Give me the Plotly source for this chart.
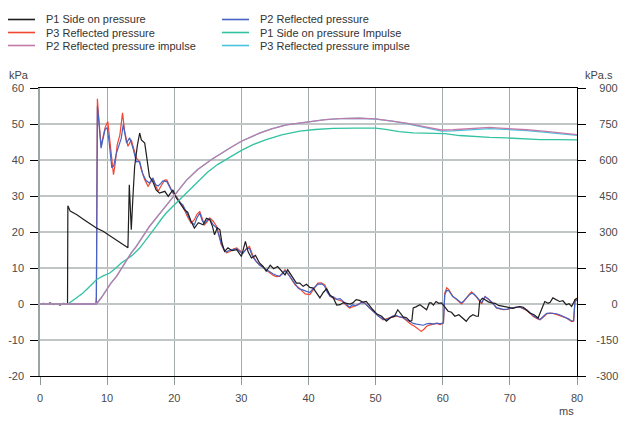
import plotly.graph_objects as go

# ---------------- data ----------------
t_p1 = [0, 0.5, 1, 1.5, 2, 2.5, 3, 3.5, 4.1, 4.15, 4.5, 5.5, 6.5, 7.5, 8.4, 9.4, 10.4, 11.3, 12.2, 13.1,
        13.2, 13.3, 13.45, 13.6, 13.85, 14.1, 14.5, 14.85, 15.1, 15.6, 15.85, 16.1, 16.3, 16.8, 17.3, 17.8,
        18.6, 19.1, 19.8, 20.3, 20.8, 21.5, 22.0, 22.5, 23.0, 23.6, 24.3, 24.8, 25.3, 25.7, 26.0, 26.4, 26.8,
        27.1, 27.5, 28.0, 28.6, 29.3, 30.0, 30.6, 31.0, 31.5, 32.1, 32.7, 33.2, 33.7, 34.3, 34.8, 35.4, 36.0,
        36.5, 36.9, 37.4, 37.8, 38.2, 38.7, 39.2, 39.7, 40.2, 40.7, 41.2, 41.7, 42.2, 42.7, 43.2, 43.7, 44.2,
        44.7, 45.2, 45.7, 46.2, 46.6, 47.1, 47.6, 48.1, 48.6, 49.1, 49.6, 50.2, 50.9, 51.3, 51.6, 52.2, 52.8,
        53.3, 53.7, 54.1, 54.6, 55.1, 55.4, 55.6, 56.0, 56.6, 57.1, 57.6, 58.0, 58.3, 58.6, 59.0, 59.4, 59.8,
        60.3, 60.8, 61.3, 61.8, 62.4, 63.0, 63.5, 64.0, 64.5, 65.0, 65.3, 65.5, 65.9, 66.3, 66.8, 67.3, 67.8,
        68.3, 69.0, 69.7, 70.5, 71.0, 71.5, 72.0, 72.5, 73.0, 73.6, 74.2, 74.7, 75.0, 75.2, 75.7, 76.0, 76.4,
        76.9, 77.4, 77.9, 78.4, 78.8, 79.2, 79.5, 79.7, 80.0]
p1 = [0, 0.2, -0.1, 0.3, -0.2, 0.1, -0.3, 0.2, 0, 27.3, 25.8, 24.8, 23.5, 22.2, 21.1, 20.2, 19.0, 18.0, 16.8, 15.6,
      24.0, 33.1, 27.0, 20.6, 30.0, 38.2, 44.0, 47.5, 45.6, 44.7, 41.5, 38.2, 35.4, 34.0, 31.7, 30.8,
      31.3, 29.9, 31.7, 29.5, 28.0, 26.2, 25.5, 23.0, 21.1, 22.6, 22.0, 23.8, 23.4, 21.5, 19.2, 21.2, 20.6,
      17.0, 14.6, 15.6, 14.8, 15.1, 13.2, 17.4, 14.5, 12.8, 13.5, 11.4, 10.5, 9.1, 10.8, 9.8, 10.4, 9.0,
      8.1, 9.5, 8.1, 6.8, 5.8, 5.8, 4.9, 5.5, 4.6, 4.4, 3.0, 1.7, 3.2, 4.2, 2.5, 1.7, -0.3,
      -0.2, 0.4, 0.3, 0.0, 0.3, 1.2, 1.0, 0.5, 0.7, -0.5, -1.6, -2.8, -3.4, -4.2, -4.8, -3.8, -3.4,
      -1.6, -2.6, -3.6, -3.8, -4.8, -4.6, -1.1, -0.8, -0.2, -0.9, -1.6, 0.3, 0.3, -0.3, 0.7, 0.2, 0.3,
      -0.8, -2.0, -2.3, -3.4, -3.0, -3.9, -4.8, -3.6, -3.0, -3.4, -3.4, 0.7, 1.6, 1.2, 0.6, 0.3, 0.2,
      -0.4, -0.7, -0.8, -1.2, -0.9, -0.7, -0.9, -1.7, -2.5, -3.0, -3.9, -1.6, 0.2, 0.7, 0.2, 0.5, 1.7,
      1.2, 0.7, 0.9, -0.2, 0.1, -0.7, 0.4, 1.2, 1.5]

t_p2 = [0, 8.35, 8.4, 8.55, 8.75, 9.1, 9.4, 9.7, 10.0, 10.3, 10.7, 11.0, 11.4, 11.8, 12.1, 12.4, 12.9, 13.35,
        13.85, 14.35, 14.85, 15.3, 15.8, 16.3, 16.8, 17.2, 17.6, 18.0, 18.3, 18.9, 19.3, 19.6, 20.3, 20.8,
        21.3, 22.0, 22.5, 23.0, 23.4, 23.8, 24.2, 24.5, 25.0, 25.3, 25.8, 26.3, 26.7, 27.0, 27.5, 27.8, 28.3,
        28.8, 29.3, 29.8, 30.2, 30.7, 31.2, 31.7, 32.2, 32.7, 33.2, 33.7, 34.2, 34.7, 35.2, 35.7, 36.1, 36.5,
        37.0, 37.5, 38.0, 38.5, 39.0, 39.5, 40.2, 40.8, 41.4, 42.0, 42.4, 42.8, 43.2, 43.7, 44.2, 44.7, 45.1,
        45.6, 46.1, 46.6, 47.0, 47.4, 47.9, 48.4, 49.0, 49.6, 50.3, 51.1, 51.6, 52.1, 52.6, 53.1, 53.6, 54.1,
        54.6, 55.1, 55.6, 56.1, 56.6, 57.1, 57.6, 58.1, 58.6, 59.1, 59.6, 60.1, 60.3, 60.6, 60.9, 61.2, 61.5,
        61.9, 62.3, 62.8, 63.2, 63.5, 63.9, 64.3, 64.7, 65.0, 65.4, 65.8, 66.0, 66.3, 66.8, 67.3, 67.7, 68.0,
        68.5, 69.0, 69.6, 70.2, 70.8, 71.5, 72.0, 72.5, 73.0, 73.5, 74.0, 74.5, 75.0, 75.5, 76.0, 76.4, 76.9,
        77.4, 77.9, 78.4, 78.8, 79.2, 79.5, 79.7, 80.0]
p2 = [0, 0, 2, 54.9, 51, 43.3, 46, 48.5, 49.0, 45, 37.8, 38.5, 42.0, 44.5, 46, 49.8, 44.7, 46.2,
      43.3, 39.5, 39.6, 36.2, 34.3, 33.6, 35.0, 33.2, 32.8, 33.5, 34.2, 34.0, 32.5, 31.5, 29.7, 28.3,
      27.5, 24.8, 22.8, 22.0, 24.0, 25.2, 23.0, 22.3, 23.5, 23.6, 22.0, 21.2, 19.0, 16.8, 14.8, 14.5, 15.0,
      15.2, 15.3, 14.5, 14.0, 15.2, 15.5, 13.0, 11.8, 10.8, 10.2, 9.6, 8.8, 8.4, 8.0, 7.7, 8.4, 9.2,
      8.2, 6.9, 5.5, 4.3, 4.0, 3.7, 3.2, 4.5, 5.5, 5.6, 5.0, 3.2, 2.2, 2.0, 1.3, 1.5, 0.9,
      0.0, -0.9, -0.2, -0.5, 0.0, 0.4, 0.2, -0.8, -1.8, -3.2, -4.2, -4.4, -3.8, -3.3, -3.2, -3.6, -3.7,
      -4.4, -4.8, -5.4, -5.6, -5.8, -5.9, -5.5, -5.4, -5.6, -5.3, -5.5, -5.2, 2.6, 3.8, 3.7, 3.0, 2.1,
      1.6, 1.0, 0.3, 1.0, 1.7, 2.4, 3.0, 2.7, 2.1, 1.2, 0.3, 1.2, 2.0, 1.4, 0.6, -0.3, -1.0,
      -1.2, -1.5, -1.4, -1.1, -0.9, -0.8, -1.2, -1.6, -2.4, -3.3, -3.9, -4.3, -3.4, -2.6, -2.5, -2.5, -2.7,
      -3.0, -3.4, -3.8, -4.2, -4.7, -4.6, 0.8, 1.0]

t_p3 = [0, 8.35, 8.4, 8.55, 8.7, 9.1, 9.4, 9.7, 10.1, 10.4, 10.7, 10.95, 11.2, 11.5, 11.9, 12.1, 12.3, 12.6,
        13.1, 13.6, 14.0, 14.35, 14.8, 15.1, 15.6, 16.1, 16.5, 16.8, 17.2, 17.6, 18.1, 18.6, 18.9, 19.3, 19.8,
        20.3, 20.8, 21.3, 21.9, 22.5, 23.0, 23.4, 23.8, 24.2, 24.5, 24.9, 25.3, 25.8, 26.3, 26.7, 27.0, 27.4,
        27.8, 28.3, 28.8, 29.3, 29.8, 30.2, 30.7, 31.2, 31.7, 32.2, 32.7, 33.2, 33.7, 34.2, 34.7, 35.2, 35.7,
        36.1, 36.5, 37.0, 37.5, 38.0, 38.5, 39.0, 39.5, 40.2, 40.8, 41.4, 41.9, 42.4, 42.8, 43.2, 43.7, 44.2,
        44.7, 45.1, 45.6, 46.1, 46.8, 47.4, 47.9, 48.4, 49.0, 49.6, 50.3, 51.1, 51.6, 52.1, 52.6, 53.1, 53.6,
        54.1, 54.6, 55.3, 55.8, 56.3, 56.8, 57.2, 57.6, 58.1, 58.6, 59.1, 59.6, 60.1, 60.3, 60.6, 60.9, 61.2,
        61.5, 61.9, 62.3, 62.8, 63.2, 63.5, 63.9, 64.3, 64.7, 65.0, 65.4, 65.8, 66.0, 66.3, 66.8, 67.3, 67.7,
        68.0, 68.5, 69.0, 69.6, 70.2, 70.8, 71.5, 72.0, 72.5, 73.0, 73.5, 74.0, 74.5, 75.0, 75.5, 76.0, 76.4,
        76.9, 77.4, 77.9, 78.4, 78.8, 79.2, 79.5, 79.7, 80.0]
p3 = [0, 0, 2, 57.0, 53, 43.8, 46.5, 49, 50.7, 45.5, 38.5, 35.9, 39, 44.2, 47, 51, 53.1, 48,
      43.8, 45.6, 42.5, 40.6, 39.5, 37.3, 34.5, 32.7, 33.8, 35.0, 33.0, 31.3, 33.0, 34.5, 34.4, 32.7, 30.8,
      29.9, 28.5, 27.1, 24.5, 22.5, 23.4, 25.0, 25.7, 23.5, 22.0, 22.8, 23.9, 23.0, 21.6, 19.0, 16.5, 15.0,
      14.2, 14.6, 15.3, 15.6, 14.8, 14.2, 15.3, 16.0, 13.5, 11.8, 10.9, 10.4, 9.4, 8.6, 8.0, 7.6, 7.7,
      8.6, 9.5, 8.3, 6.8, 5.3, 4.6, 3.6, 2.8, 2.6, 4.2, 5.8, 5.9, 5.4, 3.8, 2.1, 1.6, 1.2,
      1.0, 0.7, -0.3, -1.1, -0.6, -0.2, 0.5, 0.3, -1.0, -2.0, -3.2, -4.4, -4.1, -3.9, -3.6, -3.4, -3.6,
      -3.9, -4.6, -5.7, -6.2, -7.0, -7.6, -7.0, -6.2, -5.8, -5.7, -5.4, -5.7, -5.3, 3.0, 4.5, 4.0, 3.2,
      2.1, 1.5, 0.8, 0.0, 0.9, 1.7, 2.6, 3.4, 2.7, 2.0, 1.0, 0.0, 1.0, 2.1, 1.3, 0.6, -0.4,
      -1.1, -1.4, -1.6, -1.5, -1.2, -0.9, -0.9, -1.3, -1.8, -2.6, -3.5, -4.0, -4.4, -3.6, -2.7, -2.6, -2.6,
      -2.9, -3.2, -3.6, -3.9, -4.4, -4.9, -4.8, 1.2, 1.7]

t_i1 = [0, 4.15, 5.3, 6.4, 7.4, 8.4, 9.4, 10.4, 11.3, 12.1, 13.0, 13.85, 14.85, 15.85, 16.6, 17.3, 18.0,
        18.8, 19.8, 20.8, 21.8, 22.8, 23.8, 25.0, 26.5, 28.3, 30.0, 31.8, 33.7, 36.0, 38.7, 41.0, 43.7,
        47.0, 50.0, 51.5, 53.5, 55.6, 58.0, 60.3, 62.5, 64.5, 67.0, 69.5, 72.0, 74.5, 77.0, 80.0]
i1 = [0, 0, 23, 46, 73, 101, 117, 129, 150, 171, 188, 205, 233, 268, 296, 323, 351,
      379, 407, 435, 463, 490, 518, 550, 582, 612, 640, 665, 685, 705, 720, 727, 732,
      733, 733, 728, 718, 713, 712, 710, 702, 698, 694, 692, 688, 685, 685, 684]

t_i23 = [0, 8.4, 9.1, 9.9, 10.6, 11.4, 12.1, 12.9, 13.6, 14.35, 15.3, 16.3, 17.3, 18.3, 19.3, 20.3, 21.8,
         23.5, 25.5, 28.3, 30.0, 32.7, 34.5, 36.7, 40.0, 42.5, 44.7, 47.5, 50.0, 52.5, 54.6, 57.0, 59.8,
         61.5, 63.5, 65.5, 67.0, 68.5, 70.0, 72.5, 75.0, 77.5, 80.0]
i2 = [0, 0, 25, 60, 88, 115, 148, 185, 213, 240, 282, 323, 358, 393, 428, 462, 515,
      560, 601, 650, 678, 712, 730, 746, 760, 768, 772, 774, 771, 763, 754, 740, 725,
      726, 730, 733, 736, 733, 731, 726, 720, 713, 706]
i3 = [0, 0, 25, 60, 88, 115, 148, 185, 213, 240, 282, 323, 358, 393, 428, 462, 515,
      560, 601, 650, 678, 712, 730, 746, 760, 768, 772, 774, 770, 762, 752, 737, 720,
      721, 725, 729, 731, 729, 727, 722, 716, 710, 703]

x_ticks = [0, 10, 20, 30, 40, 50, 60, 70, 80]
y_ticks = [-20, -10, 0, 10, 20, 30, 40, 50, 60]
y_ticktext = ["-20", "-10", "0", "10", "20", "30", "40", "50", "60"]
y2_ticks = [-300, -150, 0, 150, 300, 450, 600, 750, 900]
y2_labels = ["-300", "-150", "0", "150", "300", "450", "600", "750", "900"]

# ---------------- styling ----------------
W, H = 619, 424
L, R, T, B = 40, 42, 88, 48
PW, PH = W - L - R, H - T - B
FONT = "Liberation Sans, Arial, sans-serif"

C_P1 = "#1e1e1e"
C_P2 = "#4562c4"
C_P3 = "#f2452f"
C_I1 = "#33c2a2"
C_I2 = "#c47aa8"
C_I3 = "#48c4e0"


def right_pad(s):
    # right-align the right-axis labels (plotly left-aligns them)
    digits = sum(ch.isdigit() for ch in s)
    pad = "\u2007" * (3 - digits)
    if not s.startswith("-"):
        pad = "\u2008" + pad
    return pad + s


y2_ticktext = [right_pad(s) for s in y2_labels]

fig = go.Figure()
fig.add_trace(go.Scatter(x=t_p3, y=p3, name="P3 Reflected pressure", mode="lines",
                         line=dict(color=C_P3, width=1.2)))
fig.add_trace(go.Scatter(x=t_p2, y=p2, name="P2 Reflected pressure", mode="lines",
                         line=dict(color=C_P2, width=1.2)))
fig.add_trace(go.Scatter(x=t_p1, y=p1, name="P1 Side on pressure", mode="lines",
                         line=dict(color=C_P1, width=1.2)))
fig.add_trace(go.Scatter(x=t_i1, y=i1, name="P1 Side on pressure Impulse", mode="lines",
                         line=dict(color=C_I1, width=1.3), yaxis="y2"))
fig.add_trace(go.Scatter(x=t_i23, y=i3, name="P3 Reflected pressure impulse", mode="lines",
                         line=dict(color=C_I3, width=1.3), yaxis="y2"))
fig.add_trace(go.Scatter(x=t_i23, y=i2, name="P2 Reflected pressure impulse", mode="lines",
                         line=dict(color=C_I2, width=1.3), yaxis="y2"))


def fx(px):
    return (px - L) / PW


def fy(py):
    return (H - B - py) / PH


# manual compact legend (two columns, three rows)
legend_items = [
    ("P1 Side on pressure", C_P1, 0, 0),
    ("P3 Reflected pressure", C_P3, 0, 1),
    ("P2 Reflected pressure impulse", C_I2, 0, 2),
    ("P2 Reflected pressure", C_P2, 1, 0),
    ("P1 Side on pressure Impulse", C_I1, 1, 1),
    ("P3 Reflected pressure impulse", C_I3, 1, 2),
]
col_x = [8, 222]
row_y = [19.5, 32.5, 45.5]
shapes = []
annotations = []
for name, color, col, row in legend_items:
    x0 = col_x[col]
    y = row_y[row]
    shapes.append(dict(type="line", xref="paper", yref="paper",
                       x0=fx(x0), x1=fx(x0 + 27), y0=fy(y), y1=fy(y),
                       line=dict(color=color, width=1.6)))
    annotations.append(dict(text=name, xref="paper", yref="paper", x=fx(x0 + 36), y=fy(y),
                            xanchor="left", yanchor="middle", showarrow=False,
                            font=dict(family=FONT, size=11, color="#333333")))

annotations.append(dict(text="kPa", xref="paper", yref="paper", x=fx(7), y=fy(75),
                        xanchor="left", yanchor="middle", showarrow=False,
                        font=dict(family=FONT, size=11, color="#444444")))
annotations.append(dict(text="kPa.s", xref="paper", yref="paper", x=fx(615), y=fy(75),
                        xanchor="right", yanchor="middle", showarrow=False,
                        font=dict(family=FONT, size=11, color="#444444")))
annotations.append(dict(text="ms", xref="paper", yref="paper", x=fx(566), y=fy(411),
                        xanchor="center", yanchor="middle", showarrow=False,
                        font=dict(family=FONT, size=11, color="#444444")))

tickfont = dict(family=FONT, size=11, color="#4a4a4a")

fig.update_layout(
    width=W, height=H, autosize=False,
    margin=dict(l=L, r=R, t=T, b=B, pad=0, autoexpand=False),
    paper_bgcolor="white", plot_bgcolor="white",
    showlegend=False,
    shapes=shapes, annotations=annotations,
    xaxis=dict(range=[0, 80], tickvals=x_ticks, showgrid=True, gridcolor="#a3acac", gridwidth=1.2,
               zeroline=False, showline=True, linecolor="black", linewidth=1.2, mirror=True,
               ticks="outside", ticklen=8, tickcolor="#8e9898", tickwidth=1.2,
               tickfont=tickfont, ticklabelstandoff=4, automargin=False),
    yaxis=dict(range=[-20, 60], tickvals=y_ticks, ticktext=y_ticktext, showgrid=True,
               gridcolor="#c0c5c5", gridwidth=1.8, zeroline=False, showline=True,
               linecolor="#9aa4a4", linewidth=1.5, ticks="outside", ticklen=8, tickcolor="black",
               tickwidth=1.2, tickfont=tickfont, ticklabelstandoff=4, automargin=False),
    yaxis2=dict(range=[-300, 900], tickvals=y2_ticks, ticktext=y2_ticktext, overlaying="y",
                side="right", showgrid=False, zeroline=False, showline=True, linecolor="black",
                linewidth=1.2, ticks="outside", ticklen=8, tickcolor="black", tickwidth=1.2,
                tickfont=tickfont, ticklabelstandoff=8, automargin=False),
)

fig.write_html("out.html", config={"displayModeBar": False},
               post_script="document.body.style.margin='0';document.body.style.overflow='hidden';")
